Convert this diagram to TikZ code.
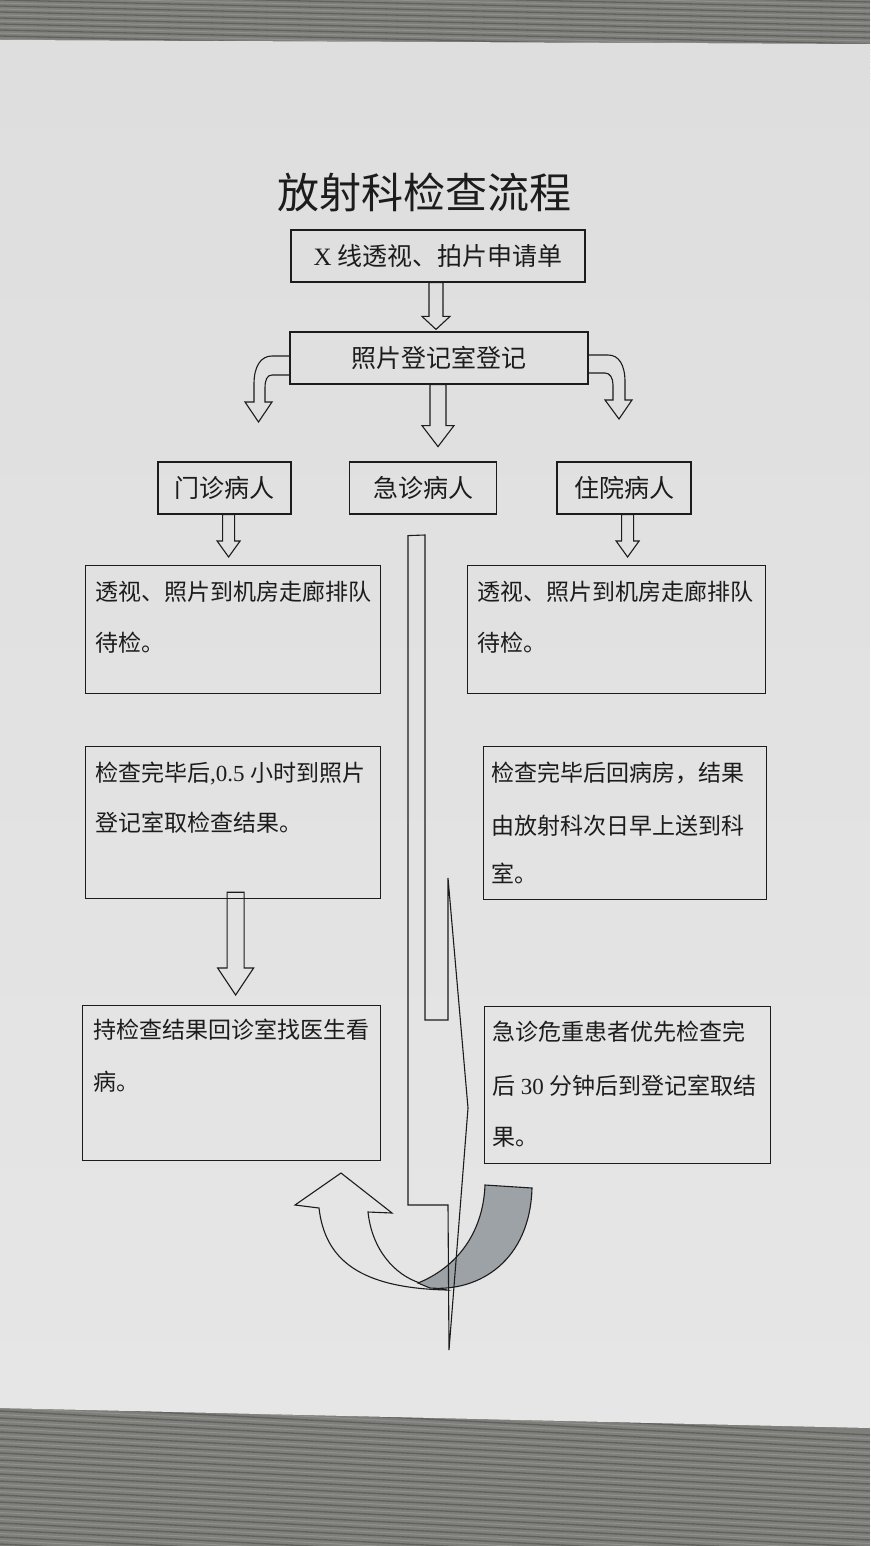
\documentclass[tikz,border=0pt]{standalone}
\usepackage{fontspec}
\setmainfont{Liberation Serif}
\newfontfamily\cjk{Noto Sans CJK SC}
\usetikzlibrary{calc}
\definecolor{paper}{HTML}{E8E8E8}
\definecolor{papertop}{HTML}{DEDEDE}
\definecolor{papermid}{HTML}{ECECEC}
\definecolor{paperbot}{HTML}{E6E6E6}
\definecolor{wood}{HTML}{7E7F7A}
\definecolor{woodd}{HTML}{4A4B47}
\definecolor{woodl}{HTML}{A3A49F}
\definecolor{ink}{HTML}{1C1C1C}
\definecolor{band}{HTML}{9DA2A6}
\tikzset{
  outline/.style={draw=ink, line width=1.2pt, line join=miter},
  box/.style={outline, inner sep=0pt, anchor=north west},
  hbox/.style={outline, inner sep=0pt, text=ink, font=\cjk\fontsize{25}{25}\selectfont},
  txt/.style={anchor=west, inner sep=0pt, text=ink, font=\cjk\fontsize{23}{23}\selectfont},
  arr/.style={draw=ink, line width=1.1pt, line join=miter},
}
\newcommand{\varrow}[5]{%
  \draw[arr] let \p1=#1, \p2=#2 in
    (\x2-#3pt,\y1) -- (\x2+#3pt,\y1) -- (\x2+#3pt,\y2+#5pt) -- (\x2+#4pt,\y2+#5pt)
    -- (\x2,\y2) -- (\x2-#4pt,\y2+#5pt) -- (\x2-#3pt,\y2+#5pt) -- cycle;}
\begin{document}
\begin{tikzpicture}[x=1pt,y=-1pt]
\useasboundingbox (0,0) rectangle (870,1546);
% table
\fill[wood] (0,0) rectangle (870,1546);
\foreach \y in {-30,-24,...,60} {
  \draw[woodd, line width=1.3pt, opacity=.55] (0,\y) -- (870,\y+20);
  \draw[woodl, line width=1pt, opacity=.5] (0,\y+3) -- (870,\y+23);
}
\foreach \y in {1390,1397,...,1560} {
  \draw[woodd, line width=1.4pt, opacity=.55] (0,\y) -- (870,\y+45);
  \draw[woodl, line width=1pt, opacity=.5] (0,\y+3.5) -- (870,\y+48.5);
}
% paper
\shade[top color=papertop, middle color=papermid, bottom color=paperbot]
  (0,40) -- (870,44) -- (870,1428) -- (0,1408) -- cycle;

% title
\node[inner sep=0pt, text=ink, font=\cjk\fontsize{42}{42}\selectfont] (title) at (424,192) {放射科检查流程};

% header boxes
\node[hbox, minimum width=294pt, minimum height=52pt] (b1) at (438,256) {{\rmfamily X} 线透视、拍片申请单};
\node[hbox, minimum width=298pt, minimum height=52pt] (b2) at (439,358) {照片登记室登记};
\node[hbox, minimum width=133pt, minimum height=52pt] (mz) at (224.5,488) {门诊病人};
\node[hbox, minimum width=147pt, minimum height=52pt] (jz) at (423,488) {急诊病人};
\node[hbox, minimum width=134pt, minimum height=52pt] (zy) at (624,488) {住院病人};

% content boxes
\node[box, minimum width=295pt, minimum height=128pt] (L1) at (85,565) {};
\node[box, minimum width=298pt, minimum height=128pt] (R1) at (467,565) {};
\node[box, minimum width=295pt, minimum height=152pt] (L2) at (85,746) {};
\node[box, minimum width=283pt, minimum height=153pt] (R2) at (483,746) {};
\node[box, minimum width=298pt, minimum height=155pt] (L3) at (82,1005) {};
\node[box, minimum width=286pt, minimum height=157pt] (R3) at (484,1006) {};

% texts
\node[txt] (l1a) at (95,592) {透视、照片到机房走廊排队};
\node[txt] (l1b) at (95,643) {待检。};
\node[txt] (r1a) at (477,592) {透视、照片到机房走廊排队};
\node[txt] (r1b) at (477,643) {待检。};
\node[txt] (l2a) at (95,773) {检查完毕后{\rmfamily ,0.5 }小时到照片};
\node[txt] (l2b) at (95,823) {登记室取检查结果。};
\node[txt] (r2a) at (491,773) {检查完毕后回病房，结果};
\node[txt] (r2b) at (491,826) {由放射科次日早上送到科};
\node[txt] (r2c) at (491,873) {室。};
\node[txt] (l3a) at (93,1030) {持检查结果回诊室找医生看};
\node[txt] (l3b) at (93,1082) {病。};
\node[txt] (r3a) at (492,1032) {急诊危重患者优先检查完};
\node[txt] (r3b) at (492,1086) {后{\rmfamily\ 30 }分钟后到登记室取结};
\node[txt] (r3c) at (492,1137) {果。};

% straight block arrows
\coordinate (t1) at ($(b2.north)+(-3,-2)$);
\varrow{(b1.south)}{(t1)}{7}{14}{13}
\coordinate (t2) at ($(b2.south)+(-1,62)$);
\varrow{(b2.south)}{(t2)}{8}{16}{21}
\coordinate (t3) at ($(L1.north)+(-4.5,-8)$);
\varrow{(mz.south)}{(t3)}{6}{11.5}{16}
\coordinate (t4) at ($(R1.north)+(11,-8)$);
\varrow{(zy.south)}{(t4)}{6}{11.5}{16}
\coordinate (t5) at ($(L3.north)+(4,-10)$);
\varrow{($(L2.south)+(0,-7)$)}{(t5)}{8.5}{18}{27}

% curved block arrows from b2
\draw[arr] ($(b2.west)+(0,-2)$) -- (272,356) .. controls (261,356) and (254,366) .. (254,384)
  -- (254,402) -- (245,402) -- (258.5,422) -- (272,402) -- (265,402) -- (265,388)
  .. controls (265,380) and (267,375) .. (272,375) -- ($(b2.west)+(0,17)$);
\draw[arr] ($(b2.east)+(0,-3)$) -- (608,355) .. controls (619,355) and (625,365) .. (625,382)
  -- (625,400) -- (632,400) -- (619,419) -- (605,400) -- (613,400) -- (613,385)
  .. controls (613,378) and (610,373) .. (605,373) -- ($(b2.east)+(0,15)$);

% bottom U-turn arrow (white)
\draw[arr] (447,1290) .. controls (360,1288) and (325,1260) .. (319,1208)
  -- (295,1205) -- (341,1173) -- (392,1213) -- (368,1212)
  .. controls (372,1250) and (395,1275) .. (420,1283) -- cycle;
% grey band
\draw[arr, fill=band] (485,1185) -- (532,1188) .. controls (530,1260) and (480,1292) .. (430,1288)
  -- (418,1283) .. controls (455,1268) and (483,1235) .. (485,1185) -- cycle;

% emergency bent arrow
\draw[arr] ($(jz.south)+(-15,21)$) -- (425,535) -- (425,1020) -- (448,1020) -- (448,878)
  -- (468,1108) -- (449,1350) -- (448,1205) -- (408,1205) -- cycle;
\end{tikzpicture}
\end{document}
